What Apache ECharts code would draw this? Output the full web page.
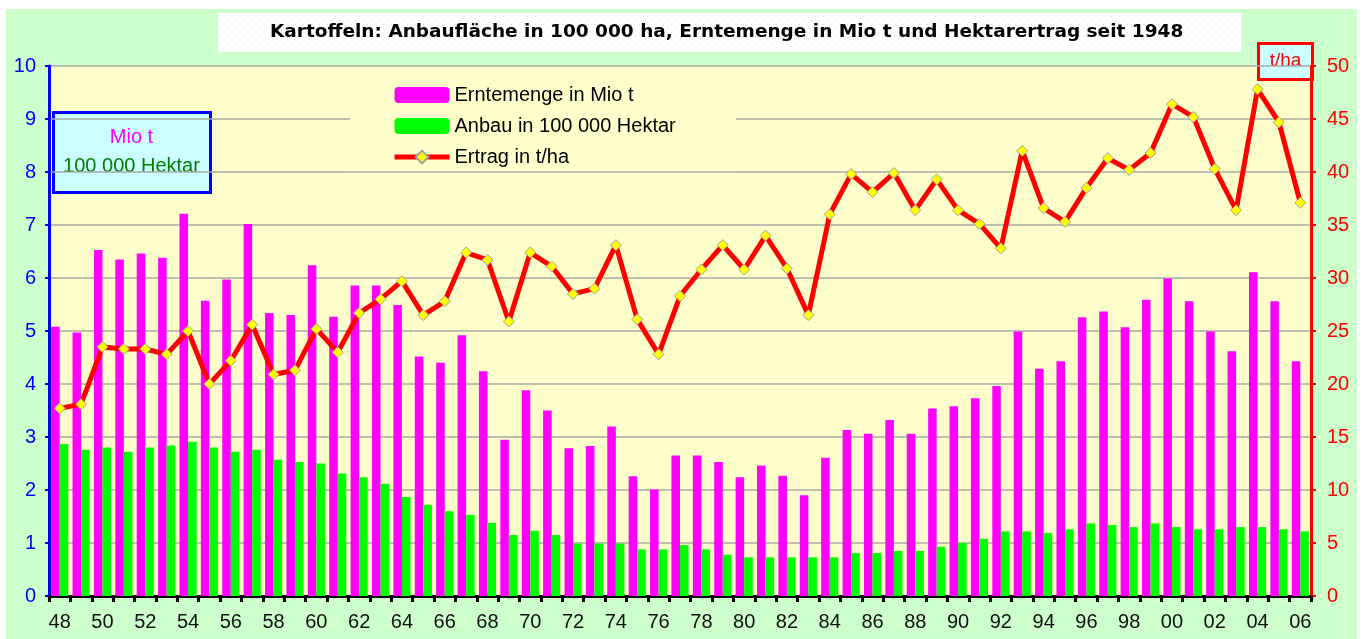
<!DOCTYPE html>
<html>
<head>
    <meta charset="utf-8">
    <script src="https://cdn.jsdelivr.net/npm/echarts@6/dist/echarts.min.js"></script>
    <style>
        *{
            margin:0;
            padding:0;
        }
        body{
            background:#fff;
            width:1365px;
            height:639px;
            position:relative;
            overflow:hidden;
        }
    </style>
</head>
<body>
    <div id="main" style="position:absolute;left:6px;top:9px;width:1351px;height:630px;"></div>
    <script type="text/javascript">

    // Jahre 1948 - 2006
    var jahre = ['48','49','50','51','52','53','54','55','56','57','58','59',
        '60','61','62','63','64','65','66','67','68','69',
        '70','71','72','73','74','75','76','77','78','79',
        '80','81','82','83','84','85','86','87','88','89',
        '90','91','92','93','94','95','96','97','98','99',
        '00','01','02','03','04','05','06'];

    // Erntemenge in Mio t
    var erntemenge = [5.08,4.97,6.53,6.35,6.46,6.38,7.21,5.57,5.97,7.02,5.34,5.30,
        6.24,5.27,5.86,5.86,5.49,4.52,4.40,4.92,4.24,2.95,
        3.88,3.50,2.79,2.83,3.20,2.26,2.01,2.65,2.65,2.53,
        2.24,2.46,2.27,1.90,2.61,3.13,3.06,3.32,3.06,3.54,
        3.58,3.73,3.96,4.99,4.29,4.43,5.26,5.37,5.07,5.59,
        5.99,5.56,4.99,4.62,6.11,5.56,4.43];

    // Anbau in 100 000 ha
    var anbau = [2.87,2.76,2.80,2.72,2.80,2.84,2.91,2.80,2.72,2.76,2.57,2.53,
        2.50,2.31,2.24,2.12,1.87,1.72,1.60,1.53,1.38,1.15,
        1.23,1.15,0.99,0.99,0.99,0.88,0.88,0.96,0.88,0.78,
        0.73,0.73,0.73,0.73,0.73,0.81,0.81,0.85,0.85,0.93,
        1.00,1.08,1.22,1.22,1.19,1.26,1.37,1.34,1.30,1.37,
        1.30,1.26,1.26,1.30,1.30,1.26,1.22];

    // Ertrag in t/ha
    var ertrag = [17.7,18.1,23.5,23.3,23.3,22.8,25.0,20.0,22.2,25.6,20.9,21.3,
        25.2,23.0,26.7,28.0,29.7,26.5,27.8,32.4,31.7,25.9,
        32.4,31.1,28.5,29.0,33.1,26.1,22.8,28.3,30.8,33.1,
        30.8,34.0,30.9,26.5,36.0,39.8,38.1,39.9,36.4,39.3,
        36.4,35.1,32.8,42.0,36.6,35.3,38.5,41.3,40.2,41.8,
        46.4,45.2,40.3,36.4,47.8,44.7,37.1];

    var linksTicks = [0, 10, 1];
    var rechtsTicks = [0, 50, 5];

    var font = 'Liberation Sans, Arial, sans-serif';

    // gepunkteter Hintergrund
    function punktMuster(bg, dot) {
        var c = document.createElement('canvas');
        c.width = 8; c.height = 8;
        var ctx = c.getContext('2d');
        ctx.fillStyle = bg;
        ctx.fillRect(0, 0, 8, 8);
        ctx.fillStyle = dot;
        ctx.fillRect(1, 1, 1, 1);
        ctx.fillRect(5, 5, 1, 1);
        return c;
    }

    var myChart = echarts.init(document.getElementById('main'));

    myChart.setOption({
        backgroundColor: '#CCFFCC',
        animation: false,
        title: {
            text: 'Kartoffeln: Anbaufläche in 100 000 ha, Erntemenge in Mio t und Hektarertrag seit 1948',
            left: 212,
            top: 4,
            padding: [10, 58, 10, 52],
            backgroundColor: {image: punktMuster('#FFFFFF', '#E4E4E4'), repeat: 'repeat'},
            textStyle: {
                fontFamily: 'DejaVu Sans',
                fontSize: 18.5,
                fontWeight: 'bold',
                color: '#000'
            }
        },
        legend: {
            orient: 'vertical',
            left: 344,
            top: 70,
            padding: [6, 60, 4, 42],
            itemGap: 11,
            itemWidth: 55,
            itemHeight: 16,
            backgroundColor: '#FFFFCC',
            lineStyle: {width: 5},
            textStyle: {
                fontFamily: font,
                fontSize: 20,
                color: '#000'
            },
            data: ['Erntemenge in Mio t', 'Anbau in 100 000 Hektar', 'Ertrag in t/ha']
        },
        grid: {
            left: 43,
            right: 46,
            top: 57,
            bottom: 43,
            show: true,
            borderWidth: 0,
            backgroundColor: {image: punktMuster('#FFFFCC', '#D6F0C8'), repeat: 'repeat'}
        },
        xAxis: {
            type: 'category',
            data: jahre,
            boundaryGap: true,
            axisLine: {lineStyle: {color: '#000', width: 3}},
            axisTick: {show: true, interval: 0, length: 6, lineStyle: {color: '#000', width: 3}},
            axisLabel: {
                interval: 1,
                margin: 16,
                fontFamily: font,
                fontSize: 20,
                color: '#111'
            }
        },
        yAxis: [
            {
                type: 'value',
                min: linksTicks[0],
                max: linksTicks[1],
                interval: linksTicks[2],
                axisLine: {show: true, lineStyle: {color: '#0000FF', width: 3}},
                axisTick: {show: true, length: 4, lineStyle: {color: '#0000FF', width: 2}},
                axisLabel: {margin: 13, fontFamily: font, fontSize: 20, color: '#0000FF'},
                splitLine: {lineStyle: {color: '#A8A8A8', width: 1.5}}
            },
            {
                type: 'value',
                min: rechtsTicks[0],
                max: rechtsTicks[1],
                interval: rechtsTicks[2],
                position: 'right',
                axisLine: {show: true, lineStyle: {color: '#FF0000', width: 3}},
                axisTick: {show: true, length: 5, lineStyle: {color: '#FF0000', width: 2}},
                axisLabel: {margin: 16, fontFamily: font, fontSize: 20, color: '#FF0000'},
                splitLine: {show: false}
            }
        ],
        series: [
            {
                name: 'Erntemenge in Mio t',
                type: 'bar',
                yAxisIndex: 0,
                data: erntemenge,
                barGap: '0%',
                barCategoryGap: '20%',
                itemStyle: {color: '#FF00FF'}
            },
            {
                name: 'Anbau in 100 000 Hektar',
                type: 'bar',
                yAxisIndex: 0,
                data: anbau,
                itemStyle: {color: '#00FF00'}
            },
            {
                name: 'Ertrag in t/ha',
                type: 'line',
                yAxisIndex: 1,
                data: ertrag,
                symbol: 'diamond',
                symbolSize: 11,
                lineStyle: {color: '#FF0000', width: 5},
                itemStyle: {color: '#FFFF00', borderColor: '#A0A0A0', borderWidth: 1},
                z: 5
            }
        ],
        graphic: [
            {
                type: 'group',
                left: 46,
                top: 102,
                children: [
                    {
                        type: 'rect',
                        shape: {x: 0, y: 0, width: 157, height: 80},
                        style: {fill: '#CCFFFF', stroke: '#0000FF', lineWidth: 3}
                    },
                    {
                        type: 'text',
                        x: 78, y: 25,
                        style: {text: 'Mio t', fill: '#FF00FF', font: '20px ' + font, align: 'center', verticalAlign: 'middle'}
                    },
                    {
                        type: 'text',
                        x: 78, y: 54,
                        style: {text: '100 000 Hektar', fill: '#008000', font: '20px ' + font, align: 'center', verticalAlign: 'middle'}
                    }
                ]
            },
            {
                type: 'group',
                left: 1251,
                top: 33,
                children: [
                    {
                        type: 'rect',
                        shape: {x: 0, y: 0, width: 54, height: 36},
                        style: {fill: '#CCFFFF', stroke: '#FF0000', lineWidth: 3}
                    },
                    {
                        type: 'text',
                        x: 27, y: 17,
                        style: {text: 't/ha', fill: '#FF0000', font: '19px ' + font, align: 'center', verticalAlign: 'middle'}
                    }
                ]
            }
        ]
    });
</script>
</body>
</html>
